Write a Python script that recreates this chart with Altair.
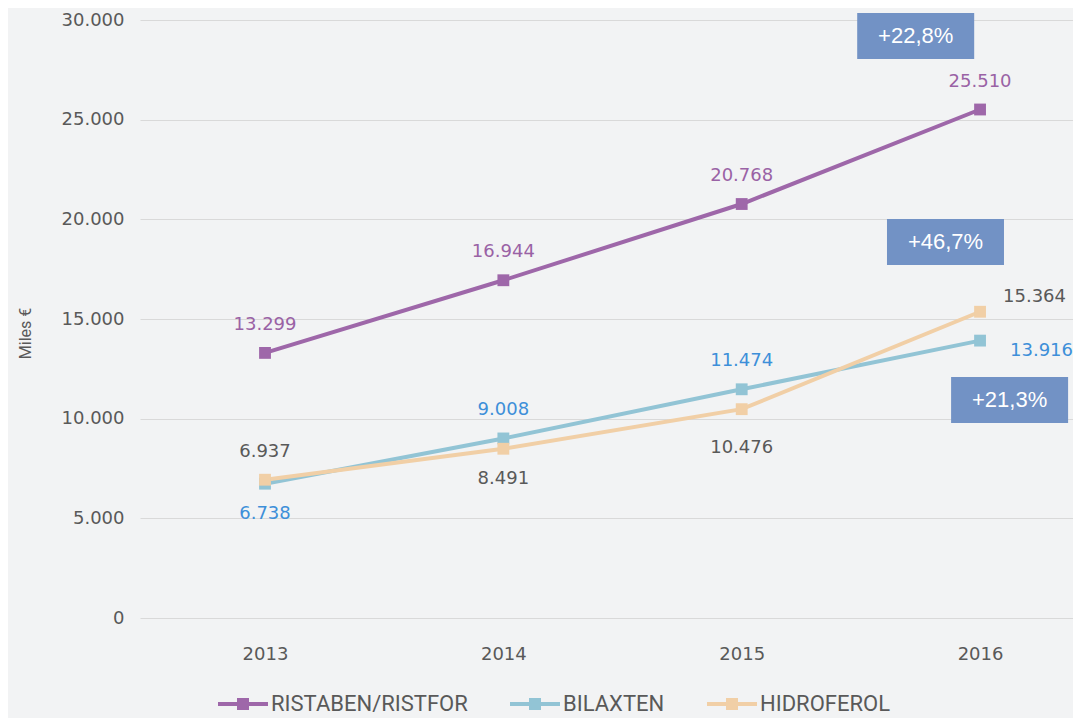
import altair as alt
import pandas as pd

years = [2013, 2014, 2015, 2016]
series_names = ["RISTABEN/RISTFOR", "BILAXTEN", "HIDROFEROL"]
ristaben = [13299, 16944, 20768, 25510]
bilaxten = [6738, 9008, 11474, 13916]
hidroferol = [6937, 8491, 10476, 15364]
ristaben_pos = ["above", "above", "above", "above"]
bilaxten_pos = ["below", "above", "above", "right_low"]
hidroferol_pos = ["above", "below", "below_far", "right_high"]

line_colors = ["#9e67a9", "#92c4d5", "#f1cfa6"]

badge_labels = ["+22,8%", "+46,7%", "+21,3%"]
badge_year = [2015.73, 2015.855, 2016.124]
badge_value = [29200, 18860, 10940]

rows = []
for name, vals, pos in zip(series_names, [ristaben, bilaxten, hidroferol],
                           [ristaben_pos, bilaxten_pos, hidroferol_pos]):
    for y, v, p in zip(years, vals, pos):
        rows.append({"year": y, "value": v, "series": name, "pos": p})
df = pd.DataFrame(rows)
badges = pd.DataFrame({"label": badge_labels, "year": badge_year, "value": badge_value})

NARROW = "Liberation Sans Narrow, Arial Narrow, Roboto, sans-serif"

xscale = alt.Scale(domain=[2012.4755, 2016.39], nice=False, zero=False)
yscale = alt.Scale(domain=[0, 30000], nice=False)
cscale = alt.Scale(domain=series_names, range=line_colors)

X = alt.X("year:Q", scale=xscale, title=None,
          axis=alt.Axis(values=years, format="d", grid=False, labelPadding=27,
                        labelFontSize=18, labelColor="#595959", labelFont="DejaVu Sans"))
Y = alt.Y("value:Q", scale=yscale,
          axis=alt.Axis(values=[0, 5000, 10000, 15000, 20000, 25000, 30000],
                        labelExpr="replace(format(datum.value, ',d'), ',', '.')",
                        labelPadding=16, labelFontSize=18, labelColor="#595959",
                        labelFont="DejaVu Sans", gridColor="#d9d9d9", gridWidth=1,
                        title="Miles €", titleFont=NARROW,
                        titleFontSize=16, titleFontWeight="normal", titleColor="#595959",
                        titleAngle=-90, titleX=-107, titleY=313, titleAlign="center"))

base = alt.Chart(df)

legend_path = "M-1,-0.08H1V0.08H-1Z M-0.24,-0.24H0.24V0.24H-0.24Z"
legend_def = alt.Legend(title=None, orient="none", direction="horizontal",
                        legendX=78, legendY=659,
                        symbolType=legend_path, symbolSize=2500,
                        symbolStrokeWidth=0, symbolOpacity=1,
                        labelFont=NARROW, labelFontSize=22, labelLimit=400,
                        labelColor="#595959", labelOffset=3,
                        columnPadding=42)

lines = base.mark_line(strokeWidth=4).encode(
    x=X, y=Y,
    color=alt.Color("series:N", scale=cscale, legend=legend_def),
    detail="series:N",
)
points = base.mark_point(shape="square", filled=True, size=140, opacity=1).encode(
    x=X, y=Y,
    color=alt.Color("series:N", scale=cscale, legend=legend_def),
)

label_color = ("datum.series == 'BILAXTEN' ? '#3d8fd9' : "
               "(datum.series == 'HIDROFEROL' ? '#595959' : '#9a62a5')")

placements = {
    "above": dict(dx=0, dy=-28, align="center"),
    "below": dict(dx=0, dy=30, align="center"),
    "below_far": dict(dx=0, dy=39, align="center"),
    "right_low": dict(dx=30, dy=10, align="left"),
    "right_high": dict(dx=23, dy=-15, align="left"),
}
text_layers = []
for key, opts in placements.items():
    t = base.transform_filter(alt.datum.pos == key).transform_calculate(
        lc=label_color,
        txt="replace(format(datum.value, ',d'), ',', '.')",
    ).mark_text(font="DejaVu Sans", fontSize=18, baseline="middle", **opts).encode(
        x=X, y=Y, text="txt:N", color=alt.Color("lc:N", scale=None),
    )
    text_layers.append(t)

badge_rect = alt.Chart(badges).mark_rect(width=117, height=46, color="#7292c5").encode(
    x=alt.X("year:Q", scale=xscale), y=alt.Y("value:Q", scale=yscale))
badge_text = alt.Chart(badges).mark_text(
    font="Liberation Sans", fontSize=22, color="white", baseline="middle", align="center"
).encode(x=alt.X("year:Q", scale=xscale), y=alt.Y("value:Q", scale=yscale), text="label:N")

chart = alt.layer(lines, points, *text_layers, badge_rect, badge_text).properties(
    width=933, height=598,
    autosize=alt.AutoSizeParams(type="none"),
    padding={"left": 132, "top": 12, "right": 0, "bottom": 100},
    background="#f2f3f4",
).configure_view(stroke=None).configure_axis(domain=False, ticks=False)

chart.save("out.html", embed_options={"renderer": "svg", "actions": False})
